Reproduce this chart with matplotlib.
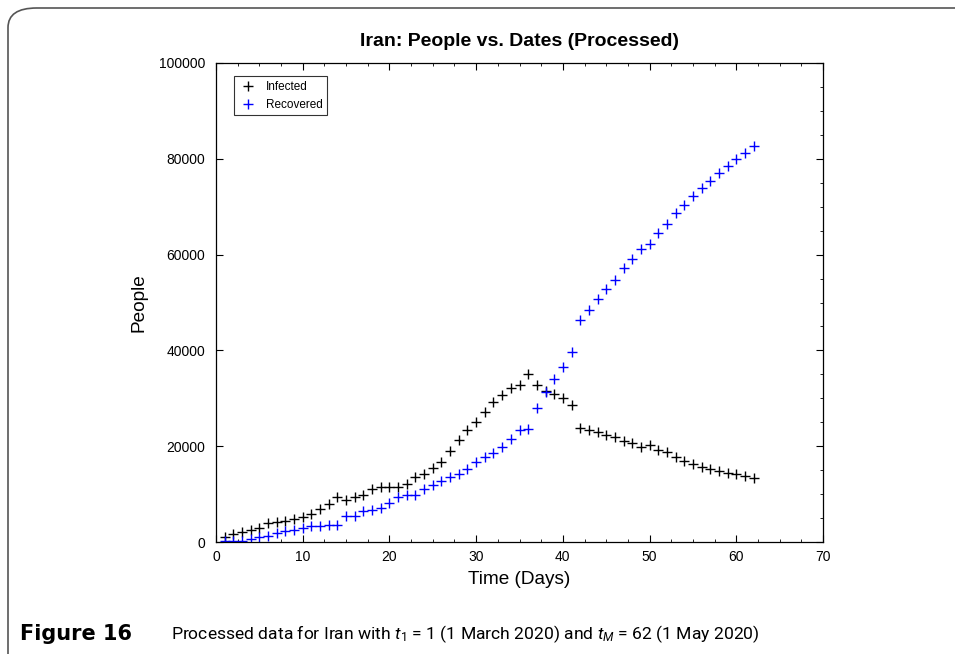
import numpy as np
import matplotlib
matplotlib.use("Agg")
import matplotlib.pyplot as plt
from matplotlib.patches import FancyBboxPatch
from matplotlib.ticker import AutoMinorLocator

plt.rcParams['font.family'] = ['Liberation Sans', 'DejaVu Sans']
plt.rcParams['mathtext.fontset'] = 'custom'
plt.rcParams['mathtext.rm'] = 'Roboto'
plt.rcParams['mathtext.it'] = 'Roboto:italic'

# data (thousands of people), days 1..62
days = np.arange(1, 63)
infected_k = [1.0, 1.7, 2.1, 2.5, 2.9, 3.9, 4.1, 4.4, 4.7, 5.3,
              5.8, 6.9, 8.0, 9.4, 8.8, 9.4, 9.8, 11.0, 11.5, 11.5,
              11.5, 12.1, 13.6, 14.1, 15.5, 16.8, 18.9, 21.3, 23.4, 25.0,
              27.2, 29.2, 30.7, 32.1, 32.8, 35.1, 32.8, 31.6, 31.0, 30.0,
              28.6, 23.8, 23.4, 22.9, 22.3, 21.9, 21.1, 20.6, 19.9, 20.3,
              19.2, 18.7, 17.7, 17.0, 16.3, 15.6, 15.2, 14.9, 14.5, 14.1,
              13.8, 13.3]
recovered_k = [0.2, 0.2, 0.2, 0.6, 1.0, 1.3, 1.8, 2.3, 2.6, 3.0,
               3.4, 3.4, 3.5, 3.5, 5.4, 5.4, 6.5, 6.7, 7.2, 8.2,
               9.3, 9.8, 9.9, 11.0, 11.9, 12.7, 13.6, 14.2, 15.2, 16.8,
               17.7, 18.6, 19.9, 21.4, 23.4, 23.5, 28.0, 31.3, 34.0, 36.6,
               39.7, 46.3, 48.4, 50.7, 52.9, 54.8, 57.3, 59.1, 61.2, 62.2,
               64.6, 66.3, 68.6, 70.4, 72.3, 74.0, 75.4, 77.0, 78.5, 79.9,
               81.3, 82.7]
infected = np.array(infected_k) * 1000
recovered = np.array(recovered_k) * 1000

fig = plt.figure(figsize=(9.55, 6.54), dpi=100)

# rounded frame around the figure
frame = FancyBboxPatch((8 / 955, -0.1), 1.2, 1.1 - 8 / 654,
                       boxstyle="round,pad=0,rounding_size=0.03",
                       transform=fig.transFigure, facecolor='none',
                       edgecolor='#555555', linewidth=1.2)
fig.patches.append(frame)

ax = fig.add_axes([216 / 955, 1 - 542 / 654, 607 / 955, 479 / 654])
ax.plot(days, infected, '+', color='black', markersize=7.5, mew=1.0, label='Infected')
ax.plot(days, recovered, '+', color='blue', markersize=7.5, mew=1.0, label='Recovered')

ax.set_xlim(0, 70)
ax.set_ylim(0, 100000)
ax.set_xticks(np.arange(0, 71, 10))
ax.set_yticks(np.arange(0, 100001, 20000))
ax.xaxis.set_minor_locator(AutoMinorLocator(4))
ax.yaxis.set_minor_locator(AutoMinorLocator(4))
ax.tick_params(which='both', direction='in', top=True, right=True, labelsize=10)
ax.tick_params(which='major', length=5, width=0.8)
ax.tick_params(axis='x', which='major', pad=6)
ax.tick_params(axis='y', which='major', pad=8)
ax.tick_params(which='minor', length=2.5, width=0.6, left=False)
for s in ax.spines.values():
    s.set_linewidth(0.9)

ax.set_title('Iran: People vs. Dates (Processed)', fontsize=14, fontweight='bold', pad=12)
ax.set_xlabel('Time (Days)', fontsize=13.7, labelpad=5)
ax.set_ylabel('People', fontsize=13.7, labelpad=8)

leg = ax.legend(loc='upper left', fontsize=8.5, frameon=True, fancybox=False,
                edgecolor='black', borderpad=0.4, handlelength=1.5,
                bbox_to_anchor=(0.02, 0.985))
leg.get_frame().set_linewidth(0.8)

fig.text(20 / 955, 1 - 634 / 654, 'Figure 16', fontsize=15, fontweight='bold',
         family=['DejaVu Sans'], va='center')
fig.text(171 / 955, 1 - 634 / 654,
         r'Processed data for Iran with $t_1$ = 1 (1 March 2020) and $t_M$ = 62 (1 May 2020)',
         fontsize=12.6, family=['Roboto', 'DejaVu Sans'], va='center')

fig.savefig('out.png', dpi=100)
